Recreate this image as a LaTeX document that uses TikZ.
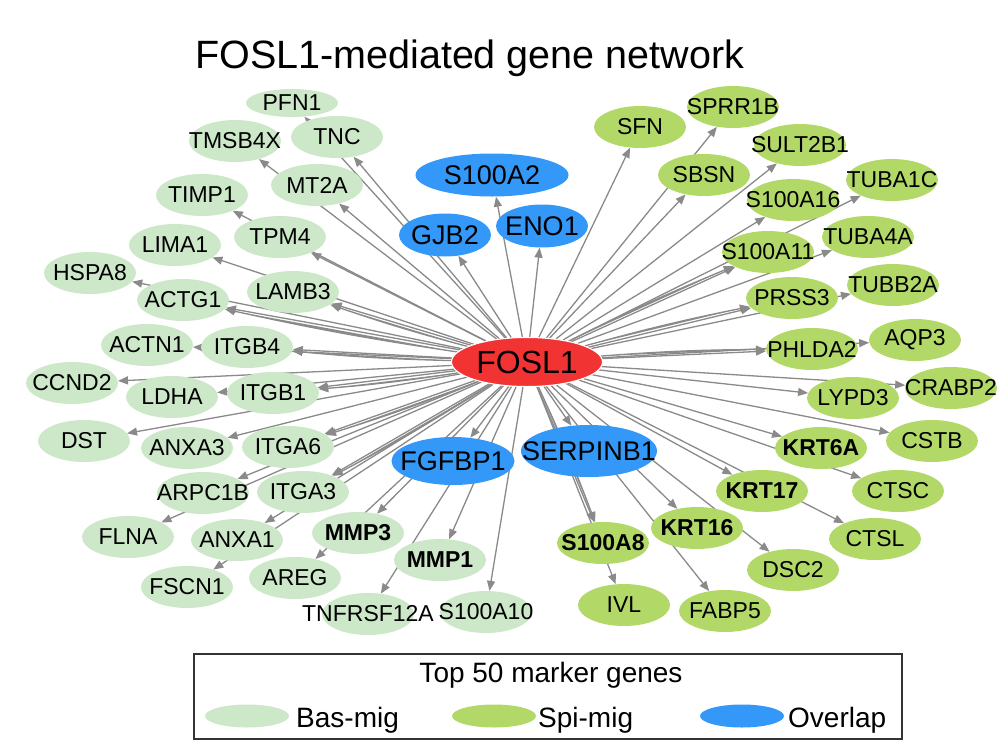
\documentclass[tikz,border=0pt]{standalone}
\usepackage{fontspec}
\setmainfont{Liberation Sans}
\usepackage{xcolor}
\usetikzlibrary{arrows.meta}
\usetikzlibrary{shapes.geometric}
\pgfdeclarelayer{bg}
\pgfsetlayers{bg,main}
\definecolor{basgreen}{RGB}{205,232,201}
\definecolor{spigreen}{RGB}{178,217,104}
\definecolor{overlapblue}{RGB}{51,152,248}
\definecolor{foslred}{RGB}{242,51,51}
\definecolor{edgegray}{RGB}{138,138,138}
\begin{document}
\begin{tikzpicture}[x=1pt, y=-1pt,
	gene/.style={ellipse, inner sep=0pt, minimum width=92pt, minimum height=42pt, font=\fontsize{23}{25}\selectfont},
	bas/.style={gene, fill=basgreen},
	spi/.style={gene, fill=spigreen},
	overlap/.style={gene, fill=overlapblue, minimum height=43pt, font=\fontsize{27}{29}\selectfont},
	link/.style={draw=edgegray, line width=1.3pt, -{Triangle[length=10pt, width=8pt]}, fill=edgegray},
	keytext/.style={anchor=base west, inner sep=0pt, font=\fontsize{28}{30}\selectfont}]
	\useasboundingbox (0,0) rectangle (997,753);
	\node[anchor=base west, inner sep=0pt, font=\fontsize{39.5}{42}\selectfont] (title) at (195,68) {FOSL1-mediated gene network};
	\node[gene, fill=foslred, minimum width=151pt, minimum height=49pt, font=\fontsize{32}{34}\selectfont, draw=white, line width=1pt] (FOSL1) at (527,362) {\makebox[0pt]{FOSL1}};
	\foreach \name/\x/\y in {TMSB4X/235/141, TNC/337/137, MT2A/317/185, TIMP1/202/195, TPM4/280/237, LIMA1/175/245, HSPA8/90/273, ACTG1/183/300, LAMB3/293/292, ACTN1/147/345, ITGB4/247/347, CCND2/72/383, LDHA/172/397, ITGB1/273/393, DST/84/441, ANXA3/187/448, ITGA6/288/447, ARPC1B/203/493, ITGA3/303/492, FLNA/128/537, ANXA1/237/540, FSCN1/187/587, AREG/295/578, TNFRSF12A/368/614, S100A10/486/612}
	{
		\node[bas] (\name) at (\x,\y) {\makebox[0pt]{\name}};
	}
	\node[bas, minimum height=28pt] (PFN1) at (292,103) {\makebox[0pt]{PFN1}};
	\foreach \name/\x/\y in {MMP3/358/533, MMP1/440/560}
	{
		\node[bas, font=\fontsize{23}{25}\selectfont\bfseries] (\name) at (\x,\y) {\makebox[0pt]{\name}};
	}
	\foreach \name/\x/\y in {SFN/640/127, SPRR1B/733/107, SULT2B1/800/145, SBSN/704/175, TUBA1C/892/180, S100A16/793/200, TUBA4A/868/237, S100A11/768/252, PRSS3/792/298, TUBB2A/893/285, PHLDA2/812/349, AQP3/915/340, LYPD3/853/398, CRABP2/951/388, CSTB/932/441, CTSC/898/491, CTSL/875/539, DSC2/793/570, IVL/624/605, FABP5/725/611}
	{
		\node[spi] (\name) at (\x,\y) {\makebox[0pt]{\name}};
	}
	\foreach \name/\x/\y in {KRT6A/821/448, KRT17/762/491, KRT16/697/528, S100A8/603/543}
	{
		\node[spi, font=\fontsize{23}{25}\selectfont\bfseries] (\name) at (\x,\y) {\makebox[0pt]{\name}};
	}
	\foreach \name/\x/\y/\w in {S100A2/492/175/153, GJB2/445/235/92, ENO1/542/226/92}
	{
		\node[overlap, minimum width=\w pt] (\name) at (\x,\y) {\makebox[0pt]{\name}};
	}
	\node[overlap, minimum width=123pt, minimum height=48pt] (FGFBP1) at (453,461) {\makebox[0pt]{FGFBP1}};
	\node[overlap, minimum width=136pt, minimum height=52pt] (SERPINB1) at (589,451) {\makebox[0pt]{SERPINB1}};
	\begin{pgfonlayer}{bg}
		\foreach \name in {PFN1, TMSB4X, TNC, MT2A, TIMP1, TPM4, LIMA1, HSPA8, ACTG1, LAMB3, ACTN1, ITGB4, CCND2, LDHA, ITGB1, DST, ANXA3, ITGA6, ARPC1B, ITGA3, FLNA, ANXA1, FSCN1, AREG, MMP3, MMP1, TNFRSF12A, S100A10, S100A2, GJB2, ENO1, FGFBP1, SERPINB1, SFN, SPRR1B, SULT2B1, SBSN, TUBA1C, S100A16, TUBA4A, S100A11, PRSS3, TUBB2A, PHLDA2, AQP3, LYPD3, CRABP2, CSTB, KRT6A, KRT17, CTSC, KRT16, S100A8, CTSL, DSC2, IVL, FABP5}
		{
			\draw[link] (FOSL1) -- (\name);
		}
		\foreach \name in {ACTG1, LAMB3, ITGB4, ITGB1, ITGA6, ITGA3, S100A8, S100A11, PRSS3, PHLDA2}
		{
			\draw[link] (FOSL1) to[bend left=2] (\name);
		}
	\end{pgfonlayer}
	% legend
	\draw[line width=1.2pt, draw=black!80] (194,654) rectangle (902,739);
	\node[anchor=base, inner sep=0pt, font=\fontsize{28}{30}\selectfont] (keytitle) at (551,682) {Top 50 marker genes};
	\node[ellipse, fill=basgreen, minimum width=84pt, minimum height=23pt, inner sep=0pt] (keyBas) at (247,716) {};
	\node[ellipse, fill=spigreen, minimum width=84pt, minimum height=23pt, inner sep=0pt] (keySpi) at (494,716) {};
	\node[ellipse, fill=overlapblue, minimum width=84pt, minimum height=23pt, inner sep=0pt] (keyOver) at (742,716) {};
	\node[keytext] (keyBasText) at (296,727) {Bas-mig};
	\node[keytext] (keySpiText) at (538,727) {Spi-mig};
	\node[keytext] (keyOverText) at (788,727) {Overlap};
\end{tikzpicture}
\end{document}
